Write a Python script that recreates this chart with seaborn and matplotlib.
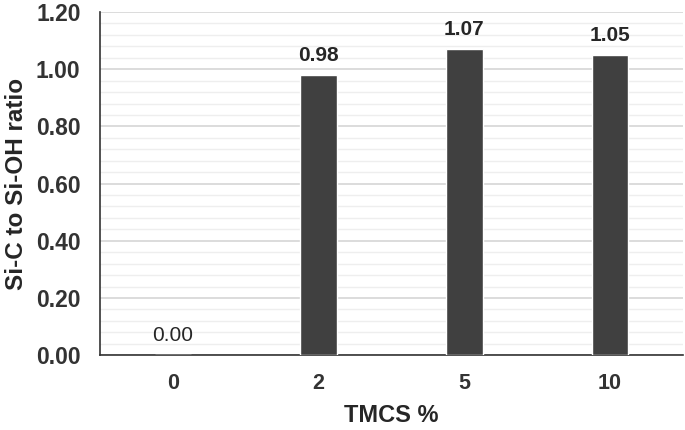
import numpy as np
import pandas as pd
import seaborn as sns
import matplotlib.pyplot as plt
from matplotlib.ticker import MultipleLocator, FixedLocator

# data
tmcs = ['0', '2', '5', '10']
ratio = [0.00, 0.98, 1.07, 1.05]
value_labels = ['0.00', '0.98', '1.07', '1.05']

df = pd.DataFrame({'TMCS': tmcs, 'ratio': ratio})

sns.set_style('white')
plt.rcParams['font.family'] = ['Liberation Sans', 'DejaVu Sans']

fig = plt.figure(figsize=(6.85, 4.3), dpi=100)
ax = fig.add_axes([0.146, 0.174, 0.851, 0.798])

sns.barplot(data=df, x='TMCS', y='ratio', color='#404040', width=0.25,
            saturation=1, ax=ax, zorder=3)

for i, (v, lab) in enumerate(zip(ratio, value_labels)):
    ax.annotate(lab, (i, v), xytext=(0, 7), textcoords='offset points',
                ha='center', va='bottom', fontsize=15,
                fontweight='normal' if v == 0 else 'bold', color='#262626')

ax.set_ylim(0, 1.2)
ax.set_xlim(-0.5, 3.5)
ax.yaxis.set_major_locator(MultipleLocator(0.2))
ax.yaxis.set_minor_locator(MultipleLocator(0.04))
ax.yaxis.set_major_formatter(plt.FuncFormatter(lambda v, p: f'{v:.2f}'))
ax.grid(axis='y', which='major', color='#d9d9d9', linewidth=1.3, zorder=0)
ax.grid(axis='y', which='minor', color='#eeeeee', linewidth=1.0, zorder=0)
ax.set_axisbelow(True)

ax.xaxis.set_minor_locator(FixedLocator(np.arange(-0.5, 4.0, 1.0)))
ax.tick_params(axis='x', which='major', length=0, pad=13, labelsize=15.5)
ax.tick_params(axis='x', which='minor', length=6, width=1.2, direction='out', color='#333333')
ax.tick_params(axis='y', which='major', length=6, width=1.2, direction='out', color='#333333',
               labelsize=16.5, pad=8)
ax.tick_params(axis='y', which='minor', length=0)
for t in ax.get_xticklabels() + ax.get_yticklabels():
    t.set_fontweight('bold')
    t.set_color('#333333')

sns.despine(ax=ax, top=True, right=True)
ax.spines['left'].set_color('#333333')
ax.spines['bottom'].set_color('#333333')
ax.spines['left'].set_linewidth(1.2)
ax.spines['bottom'].set_linewidth(1.2)

ax.set_xlabel('TMCS %', fontsize=17, fontweight='bold', color='#262626', labelpad=7)
ax.set_ylabel('Si-C to Si-OH ratio', fontsize=17.5, fontweight='bold', color='#262626', labelpad=6)

fig.savefig('out.png', dpi=100)
